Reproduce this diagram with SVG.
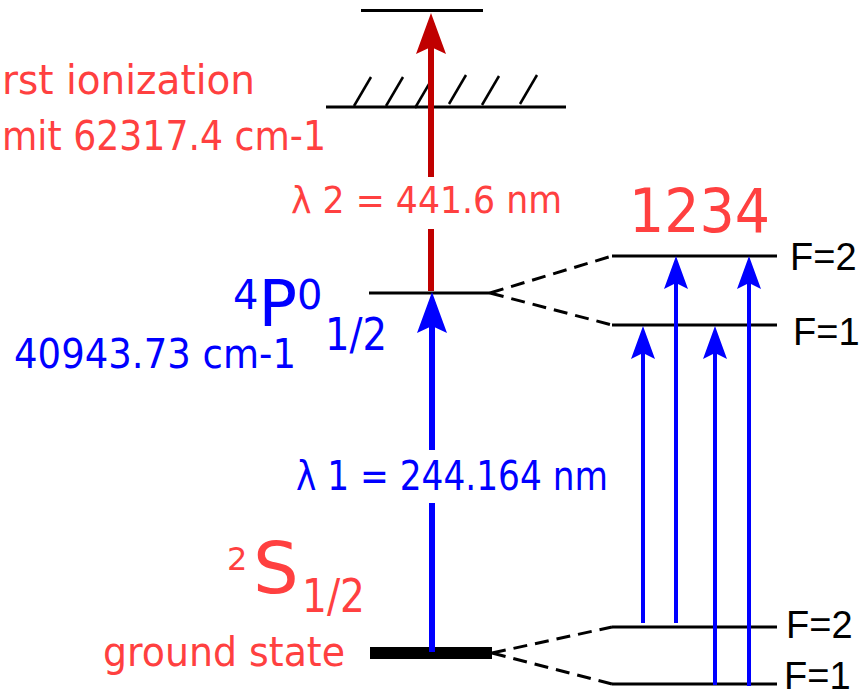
<svg xmlns="http://www.w3.org/2000/svg" width="863" height="698" viewBox="0 0 863 698">
<defs>
<style>
text{font-family:"DejaVu Sans","Noto Sans",sans-serif}
text.flab{font-family:"Liberation Sans",Arial,sans-serif;font-size:38px}
.lvl{stroke:#000;stroke-width:3;fill:none}
.hatch{stroke:#000;stroke-width:2.5}
.dash{stroke:#000;stroke-width:3;stroke-dasharray:14 8;fill:none}
.red{fill:#ff4040}
.blue{fill:#0000ff}
.blk{fill:#000}
.rarrow{stroke:#c00000;stroke-width:6}
.barrow{stroke:#0000ff;stroke-width:6}
.sarrow{stroke:#0000ff;stroke-width:4}
</style>
<marker id="headRed" markerUnits="userSpaceOnUse" markerWidth="42" markerHeight="30" refX="7" refY="15" orient="auto" viewBox="0 0 42 30"><path d="M0,0 L41,15 L0,30 L7,15 Z" fill="#c00000"/></marker>
<marker id="headBlue" markerUnits="userSpaceOnUse" markerWidth="42" markerHeight="30" refX="7" refY="15" orient="auto" viewBox="0 0 42 30"><path d="M0,0 L41,15 L0,30 L7,15 Z" fill="#0000ff"/></marker>
<marker id="headSmall" markerUnits="userSpaceOnUse" markerWidth="34" markerHeight="24" refX="6" refY="12" orient="auto" viewBox="0 0 34 24"><path d="M0,0 L33,12 L0,24 L6,12 Z" fill="#0000ff"/></marker>
</defs>
<rect width="863" height="698" fill="#fff"/>

<g id="top-level"><line class="lvl" x1="361" y1="10.5" x2="483" y2="10.5"/></g>

<g id="ionization-limit">
<line class="lvl" x1="326" y1="107" x2="566" y2="107"/>
<line class="hatch" x1="354" y1="106" x2="371" y2="77"/>
<line class="hatch" x1="386" y1="106" x2="403" y2="77"/>
<line class="hatch" x1="415" y1="108" x2="432" y2="79"/>
<line class="hatch" x1="449" y1="104" x2="466" y2="75"/>
<line class="hatch" x1="482" y1="105" x2="499" y2="76"/>
<line class="hatch" x1="520" y1="104" x2="537" y2="75"/>
<text class="red" x="2" y="94" font-size="40" textLength="253" lengthAdjust="spacingAndGlyphs">rst ionization</text>
<text class="red" x="2" y="150" font-size="40" textLength="324" lengthAdjust="spacingAndGlyphs">mit 62317.4 cm-1</text>
</g>

<g id="level-4P">
<line class="lvl" x1="369" y1="293" x2="490" y2="293"/>
<text class="blue" x="233" y="309" font-size="40">4<tspan font-size="64" dy="17">P</tspan><tspan dy="-17">0</tspan></text>
<text class="blue" x="325" y="350" font-size="44" textLength="62" lengthAdjust="spacingAndGlyphs">1/2</text>
<text class="blue" x="14" y="368" font-size="41" textLength="282" lengthAdjust="spacingAndGlyphs">40943.73 cm-1</text>
</g>

<g id="ground-state">
<rect x="370" y="647" width="122" height="12" fill="#000"/>
<text class="red" x="227" y="570" font-size="32">2</text>
<text class="red" x="253" y="593" font-size="72">S</text>
<text class="red" x="302" y="612" font-size="46" textLength="63" lengthAdjust="spacingAndGlyphs">1/2</text>
<text class="red" x="103" y="666" font-size="40" textLength="242" lengthAdjust="spacingAndGlyphs">ground state</text>
</g>

<g id="hyperfine-upper">
<line class="lvl" x1="612" y1="256" x2="777" y2="256"/>
<line class="lvl" x1="612" y1="325" x2="777" y2="325"/>
<text class="blk flab" x="790" y="270">F=2</text>
<text class="blk flab" x="793" y="345">F=1</text>
</g>

<g id="hyperfine-lower">
<line class="lvl" x1="612" y1="627" x2="777" y2="627"/>
<line class="lvl" x1="612" y1="684" x2="777" y2="684"/>
<text class="blk flab" x="786" y="638">F=2</text>
<text class="blk flab" x="784" y="689">F=1</text>
</g>

<g id="transition-labels">
<text class="red" x="629" y="232" font-size="60" textLength="141" lengthAdjust="spacingAndGlyphs">1234</text>
<text class="red" x="291" y="213" font-size="38" textLength="271" lengthAdjust="spacingAndGlyphs">λ 2 = 441.6 nm</text>
<text class="blue" x="296" y="490" font-size="40" textLength="312" lengthAdjust="spacingAndGlyphs">λ 1 = 244.164 nm</text>
</g>

<g id="connectors">
<line class="rarrow" x1="431" y1="291" x2="431" y2="229"/>
<line class="rarrow" x1="431" y1="177" x2="431" y2="47" marker-end="url(#headRed)"/>
<line class="barrow" x1="432" y1="652" x2="432" y2="503"/>
<line class="barrow" x1="432" y1="450" x2="432" y2="326" marker-end="url(#headBlue)"/>
<path class="dash" d="M490,293 L612,256 M490,293 L612,325"/>
<path class="dash" d="M492,653 L612,627 M492,653 L612,684"/>
<line class="sarrow" x1="643" y1="623" x2="643" y2="353" marker-end="url(#headSmall)"/>
<line class="sarrow" x1="676" y1="623" x2="676" y2="283" marker-end="url(#headSmall)"/>
<line class="sarrow" x1="715" y1="685" x2="715" y2="353" marker-end="url(#headSmall)"/>
<line class="sarrow" x1="749" y1="686" x2="749" y2="283" marker-end="url(#headSmall)"/>
</g>
</svg>
